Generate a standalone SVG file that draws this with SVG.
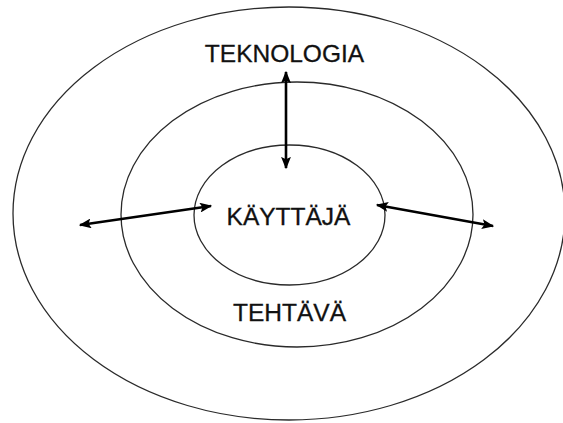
<svg xmlns="http://www.w3.org/2000/svg" width="563" height="423" viewBox="0 0 563 423">
<style>
.ring{fill:none;stroke:#2a2a2a;stroke-width:1.3}
.lbl{font-family:"Liberation Sans",Arial,sans-serif;font-size:24.5px;fill:#111;stroke:#111;stroke-width:0.3;text-anchor:middle}
.arr{stroke:#000;stroke-width:2.6;fill:none;marker-start:url(#ah);marker-end:url(#ah)}
</style>
<defs>
<marker id="ah" viewBox="0 0 10 8" refX="9" refY="4" markerWidth="4.8" markerHeight="3.8" orient="auto-start-reverse" markerUnits="strokeWidth">
<path d="M0,0 L10,4 L0,8 L2,4 Z" fill="#000"/>
</marker>
</defs>
<rect width="563" height="423" fill="#fff"/>
<g id="tekno">
<ellipse class="ring" cx="289" cy="213.5" rx="276" ry="206.5"/>
<text class="lbl" x="284.5" y="62">TEKNOLOGIA</text>
</g>
<g id="tehtava">
<ellipse class="ring" cx="297" cy="214.5" rx="176" ry="132.5"/>
<text class="lbl" x="289.5" y="321">TEHTÄVÄ</text>
</g>
<g id="kayttaja">
<ellipse class="ring" cx="289.5" cy="215" rx="95.5" ry="70"/>
<text class="lbl" x="288.5" y="225">KÄYTTÄJÄ</text>
</g>
<g id="connectors">
<line class="arr" x1="286" y1="72" x2="286" y2="168"/>
<line class="arr" x1="80" y1="225" x2="211" y2="206"/>
<line class="arr" x1="377" y1="205" x2="493" y2="226"/>
</g>
</svg>
